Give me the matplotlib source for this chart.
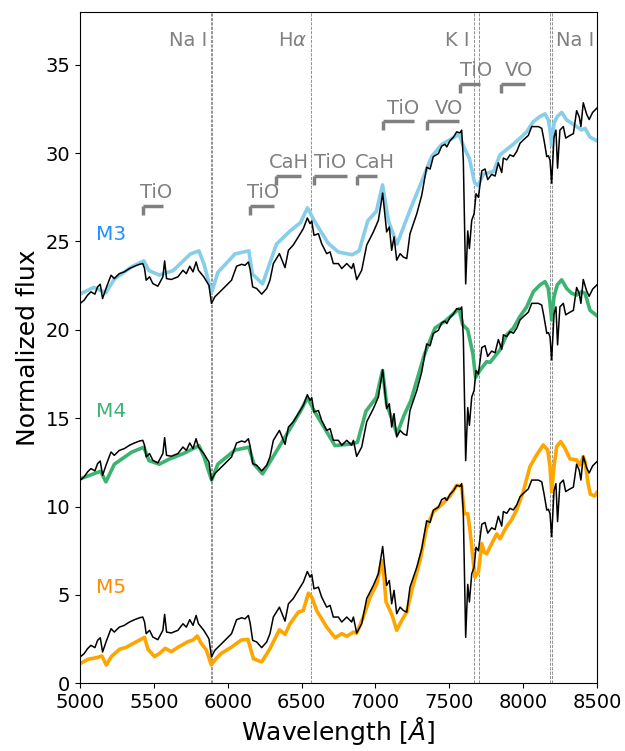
import numpy as np
import matplotlib
matplotlib.use("Agg")
import matplotlib.pyplot as plt

# observed spectrum (bottom copy, shifted up for the other panels)
obs_wave = [5001, 5028, 5051, 5074, 5101, 5119, 5137, 5153, 5176, 5210, 5232, 5266, 5300, 5335,
            5369, 5403, 5425, 5437, 5448, 5471, 5493, 5527, 5561, 5573, 5586, 5618, 5663, 5697,
            5720, 5743, 5765, 5786, 5802, 5838, 5873, 5890, 5913, 5947, 5981, 6026, 6060, 6094,
            6117, 6140, 6152, 6169, 6196, 6230, 6264, 6286, 6309, 6350, 6388, 6411, 6444, 6478,
            6512, 6539, 6557, 6569, 6584, 6614, 6636, 6670, 6693, 6715, 6749, 6772, 6806, 6839,
            6851, 6873, 6907, 6941, 6986, 7020, 7049, 7076, 7094, 7110, 7126, 7144, 7167, 7189,
            7212, 7234, 7280, 7313, 7347, 7370, 7392, 7426, 7449, 7471, 7483, 7505, 7528, 7550,
            7573, 7584, 7595, 7611, 7625, 7636, 7652, 7668, 7681, 7697, 7720, 7742, 7760, 7787,
            7810, 7832, 7855, 7866, 7889, 7911, 7934, 7957, 7979, 8002, 8035, 8058, 8103, 8126,
            8142, 8160, 8171, 8182, 8193, 8209, 8222, 8233, 8249, 8272, 8288, 8317, 8340, 8362,
            8380, 8391, 8407, 8430, 8447, 8470, 8500]
obs_flux = [1.49, 1.68, 1.96, 2.15, 2.02, 2.43, 2.58, 1.77, 2.34, 3.09, 2.90, 3.18, 3.28, 3.47,
            3.60, 3.71, 3.75, 3.47, 2.81, 3.00, 2.62, 2.47, 3.00, 3.90, 2.90, 2.85, 3.00, 3.37,
            3.18, 3.60, 3.28, 3.84, 3.37, 3.00, 2.52, 1.49, 1.87, 2.15, 2.43, 2.81, 3.60, 3.71,
            3.65, 3.84, 3.40, 2.43, 2.34, 2.02, 2.34, 2.81, 3.75, 4.31, 3.52, 4.50, 4.80, 5.26,
            5.73, 6.33, 6.01, 6.16, 5.35, 5.44, 4.88, 4.31, 4.41, 3.75, 3.75, 3.47, 3.75, 3.47,
            3.75, 2.84, 3.37, 4.80, 5.54, 6.20, 7.74, 5.54, 5.82, 4.50, 5.26, 3.94, 4.31, 4.12,
            4.03, 5.44, 6.57, 7.60, 9.20, 9.10, 9.80, 9.97, 10.40, 10.50, 10.35, 10.70, 10.90, 11.20,
            11.15, 11.30, 9.60, 2.60, 5.60, 4.60, 6.20, 6.57, 7.70, 7.50, 9.00, 9.10, 8.50, 8.80,
            8.70, 9.45, 8.90, 9.72, 9.62, 9.90, 9.81, 10.10, 10.56, 10.75, 11.00, 11.50, 11.50, 11.40,
            10.70, 9.80, 9.85, 9.60, 8.30, 10.90, 11.30, 9.15, 11.30, 11.50, 10.85, 11.00, 11.10, 12.40,
            12.05, 11.50, 12.85, 12.20, 11.90, 12.30, 12.55]
obs_offsets = [20, 10, 0]

# templates (values as drawn, offsets included)
m3_wave = [5000, 5093, 5175, 5233, 5350, 5432, 5467, 5537, 5630, 5747, 5805, 5840, 5891, 5933,
           6050, 6143, 6167, 6236, 6330, 6423, 6493, 6540, 6586, 6680, 6750, 6843, 6890, 6948,
           7006, 7048, 7088, 7146, 7240, 7333, 7380, 7450, 7566, 7601, 7636, 7671, 7695, 7730,
           7800, 7843, 7888, 7933, 7978, 8024, 8069, 8114, 8148, 8170, 8182, 8193, 8209, 8231,
           8261, 8294, 8328, 8362, 8396, 8419, 8453, 8500]
m3_flux = [22.03, 22.40, 22.10, 22.88, 23.57, 23.90, 23.35, 23.10, 23.35, 24.29, 24.47, 23.70, 22.10, 23.25,
           24.30, 24.47, 23.16, 22.60, 24.85, 25.60, 26.07, 26.90, 26.17, 24.90, 24.40, 24.25, 24.47, 26.17,
           26.70, 28.20, 26.17, 24.85, 26.90, 28.80, 29.80, 30.50, 31.06, 30.30, 29.70, 28.34, 28.15, 28.80,
           28.97, 29.90, 30.20, 30.50, 30.84, 31.20, 31.78, 32.07, 32.22, 31.88, 31.31, 30.46, 31.69, 32.07,
           32.30, 31.88, 31.69, 31.50, 31.31, 31.40, 30.90, 30.70]

m4_wave = [5000, 5140, 5175, 5233, 5350, 5432, 5467, 5537, 5607, 5700, 5805, 5840, 5891, 5933,
           6050, 6143, 6178, 6236, 6306, 6400, 6493, 6540, 6586, 6680, 6726, 6843, 6878, 6936,
           7006, 7048, 7076, 7146, 7193, 7240, 7333, 7403, 7473, 7566, 7590, 7625, 7660, 7678,
           7706, 7753, 7776, 7843, 7888, 7933, 7978, 8024, 8069, 8114, 8148, 8170, 8182, 8193,
           8209, 8231, 8261, 8294, 8328, 8362, 8396, 8419, 8453, 8500]
m4_flux = [11.57, 12.00, 11.40, 12.40, 13.08, 13.36, 12.60, 12.40, 12.70, 13.00, 13.45, 12.80, 11.50, 12.40,
           13.20, 13.36, 12.40, 11.85, 12.80, 14.10, 15.40, 16.17, 15.40, 14.10, 13.45, 13.55, 13.64, 15.40,
           16.17, 17.70, 15.80, 14.10, 15.15, 16.00, 18.64, 20.10, 20.50, 21.20, 20.30, 20.00, 18.64, 17.30,
           17.70, 18.20, 18.16, 18.86, 19.71, 20.09, 20.75, 21.30, 22.16, 22.54, 22.73, 22.35, 21.50, 20.56,
           21.88, 22.54, 22.83, 22.35, 22.07, 21.97, 22.16, 22.07, 21.10, 20.80]

m5_wave = [5004, 5054, 5121, 5148, 5178, 5212, 5268, 5313, 5370, 5437, 5460, 5505, 5539, 5577,
           5618, 5663, 5731, 5765, 5794, 5821, 5855, 5889, 5923, 5957, 6024, 6092, 6137, 6174,
           6230, 6286, 6350, 6388, 6422, 6478, 6512, 6546, 6569, 6602, 6670, 6727, 6772, 6806,
           6851, 6873, 6918, 6964, 7009, 7043, 7054, 7072, 7099, 7117, 7144, 7178, 7212, 7246,
           7302, 7347, 7392, 7460, 7505, 7550, 7584, 7602, 7625, 7641, 7659, 7674, 7697, 7720,
           7738, 7753, 7787, 7821, 7844, 7888, 7922, 7956, 8001, 8046, 8091, 8136, 8166, 8182,
           8193, 8209, 8227, 8254, 8283, 8317, 8362, 8385, 8407, 8420, 8440, 8455, 8485, 8500]
m5_flux = [1.13, 1.36, 1.47, 1.55, 1.04, 1.51, 1.93, 2.04, 2.30, 2.60, 1.93, 1.51, 1.70, 1.98,
           1.79, 2.04, 2.36, 2.45, 2.68, 2.26, 1.89, 1.04, 1.42, 1.70, 2.04, 2.45, 2.49, 1.39,
           1.21, 1.96, 3.03, 2.77, 3.37, 4.03, 4.12, 5.10, 4.88, 4.12, 3.18, 2.58, 2.81, 2.66,
           2.90, 2.84, 3.75, 4.88, 5.63, 6.95, 6.39, 4.60, 4.12, 3.75, 3.00, 3.56, 4.03, 5.26,
           6.95, 8.83, 9.70, 10.20, 10.60, 11.20, 11.15, 9.60, 9.60, 8.60, 7.16, 6.00, 6.30, 7.90,
           7.40, 7.33, 7.90, 8.46, 8.18, 8.87, 9.25, 9.81, 10.85, 12.26, 12.92, 13.49, 13.20, 12.26,
           10.85, 12.26, 13.40, 13.68, 13.30, 12.70, 12.64, 12.36, 12.83, 12.50, 11.30, 10.70, 10.60, 10.80]

template_names = ["M3", "M4", "M5"]
template_colors = ["skyblue", "mediumseagreen", "orange"]
label_colors = ["dodgerblue", "mediumseagreen", "darkorange"]

# spectral lines
line_waves = [5890, 5896, 6563, 7665, 7699, 8183, 8195]
line_names = ["Na I", r"H$\alpha$", "K I", "Na I"]
line_name_x = [5860, 6535, 7640, 8225]
line_name_ha = ["right", "right", "right", "left"]

# molecular bands
band_names = ["TiO", "TiO", "CaH", "TiO", "CaH", "TiO", "VO", "TiO", "VO"]
band_start = [5427, 6148, 6330, 6587, 6878, 7053, 7352, 7573, 7851]
band_end = [5560, 6311, 6493, 6808, 7011, 7263, 7567, 7706, 8010]
band_level = [27.0, 27.0, 28.7, 28.7, 28.7, 31.8, 31.8, 33.9, 33.9]
band_text_x = [5516, 6237, 6412, 6694, 6995, 7186, 7498, 7681, 7970]

fig = plt.figure(figsize=(6.25, 7.51), dpi=100)
ax = fig.add_axes([0.128, 0.0901, 0.8272, 0.8943])

for w in line_waves:
    ax.axvline(w, color="gray", ls="--", lw=0.6, zorder=1)

tw = [m3_wave, m4_wave, m5_wave]
tf = [m3_flux, m4_flux, m5_flux]
for i in range(3):
    ax.plot(tw[i], tf[i], color=template_colors[i], lw=2.6, zorder=2)
    ax.plot(obs_wave, np.array(obs_flux) + obs_offsets[i], color="black", lw=1.1, zorder=3)
    ax.text(5105, obs_offsets[i] + 5.4, template_names[i], color=label_colors[i],
            fontsize=14.5, va="center", ha="left")

for i in range(len(line_names)):
    ax.text(line_name_x[i], 36.35, line_names[i], color="gray", fontsize=14,
            ha=line_name_ha[i], va="center")

for i in range(len(band_names)):
    y = band_level[i]
    ax.plot([band_start[i], band_end[i]], [y, y], color="gray", lw=2.5, solid_capstyle="butt")
    ax.plot([band_start[i], band_start[i]], [y, y - 0.5], color="gray", lw=2.5, solid_capstyle="butt")
    ax.text(band_text_x[i], y + 0.75, band_names[i], color="gray", fontsize=14,
            ha="center", va="center")

ax.set_xlim(5000, 8500)
ax.set_ylim(0, 38)
ax.set_xticks([5000, 5500, 6000, 6500, 7000, 7500, 8000, 8500])
ax.set_yticks([0, 5, 10, 15, 20, 25, 30, 35])
ax.tick_params(labelsize=14)
ax.set_xlabel(r"Wavelength [$\AA$]", fontsize=18, labelpad=2)
ax.set_ylabel("Normalized flux", fontsize=18)

fig.savefig("out.png", dpi=100)
